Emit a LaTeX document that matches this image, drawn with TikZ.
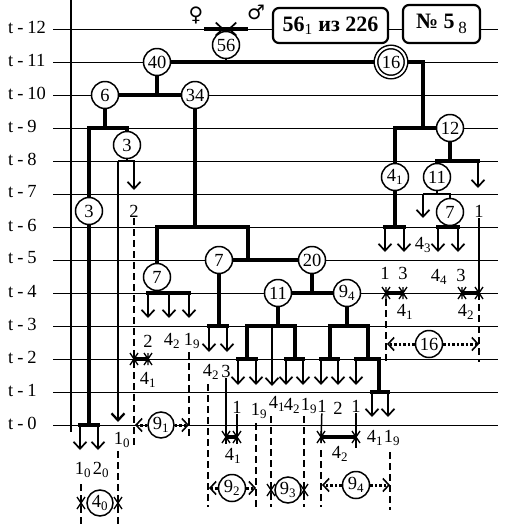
\documentclass[tikz,border=0pt]{standalone}
\usepackage{fontspec}
\setmainfont{Liberation Serif}
\newfontfamily\symfont{DejaVu Sans}
\usetikzlibrary{arrows.meta, positioning}

% number with an index
\newcommand{\ix}[2]{#1\textsubscript{#2}}
% cross mark at the end of a span
\newcommand{\xmk}[1]{\draw[line width=1.3pt] (#1) +(-4,-6) -- +(4,6) +(-4,6) -- +(4,-6) +(0,-6) -- +(0,6);}

\begin{document}
\begin{tikzpicture}[x=1pt, y=-1pt,
    font=\fontsize{18.5}{20}\selectfont,
    gline/.style={line width=0.9pt},
    thk/.style={line width=3.3pt},
    brk/.style={thk, line cap=rect},
    med/.style={line width=2.3pt},
    thn/.style={line width=1.5pt},
    seg/.style={line width=3.3pt},
    gen/.style={circle, draw, line width=1.5pt, fill=white, minimum size=27pt, inner sep=0pt},
    dbl/.style={gen, double, double distance=2pt, minimum size=30pt},
    lab/.style={inner sep=1pt},
    arr/.style={line width=1.7pt, -{Straight Barb[length=7pt, width=13pt]}},
    dsh/.style={line width=2pt, dash pattern=on 7pt off 4pt},
    dotl/.style={line width=3pt, dash pattern=on 2.5pt off 2pt, -{Straight Barb[length=6pt, width=13pt, line width=1.6pt]}},
    tbox/.style={draw, rounded corners=6pt, line width=2.2pt, fill=white, font=\fontsize{22}{24}\selectfont\bfseries}
]
    \useasboundingbox (0,0) rectangle (510,531);

    % time axis
    \foreach \k in {0,...,12}{
        \draw[gline] (53,{29+33*(12-\k)}) -- (498,{29+33*(12-\k)});
        \node[lab, anchor=west] (t\k) at (7,{27+33*(12-\k)}) {t\hspace{4pt}-\hspace{4pt}\k};
    }
    \draw[med] (71,0) -- (71,432);

    % header
    \node[lab, font=\symfont\fontsize{20}{20}\selectfont] (fem) at (196,15) {♀};
    \node[lab, font=\symfont\fontsize{20}{20}\selectfont] (mal) at (256,12) {♂};
    \node[tbox, minimum width=115pt, minimum height=35pt] (bx1) at (330.5,25.5) {56\textsubscript{\normalfont 1} из 226};
    \node[tbox, minimum width=77pt, minimum height=38pt] (bx2) at (441.5,24) {№ 5\,\raisebox{-5pt}{\normalfont\fontsize{17}{17}\selectfont 8}};
    \coordinate (mL) at (204,29);
    \coordinate (mR) at (248,29);
    \coordinate (mCl) at (224,29);
    \coordinate (mCr) at (228,29);
    \draw[thk] (mL) -- (mR);
    \draw[arr] (mL) -- (mCl);
    \draw[arr] (mR) -- (mCr);

    % generations
    \node[gen] (n56) at (226,45) {56};
    \node[gen] (n40) at (157,62) {40};
    \node[dbl] (n16) at (391,62) {16};
    \node[gen] (n6) at (105,95) {6};
    \node[gen] (n34) at (195,95) {34};
    \node[gen] (n3a) at (127,145) {3};
    \node[gen] (n12) at (450,128) {12};
    \node[gen] (n41) at (395,177) {\ix{4}{1}};
    \node[gen] (n11a) at (437,177) {11};
    \node[gen] (n3b) at (89,211) {3};
    \node[gen] (n7c) at (450,212) {7};
    \node[gen] (n7b) at (219,260) {7};
    \node[gen] (n20) at (312,260) {20};
    \node[gen] (n7a) at (157,277) {7};
    \node[gen] (n11b) at (278,293) {11};
    \node[gen] (n94) at (347,293) {\ix{9}{4}};

    % upper tree
    \draw[med] (n56) -- (226,62);
    \draw[thk] (n40) -- (n16);
    \draw[thk] (n40) -- (157,95);
    \draw[thk] (n6) -- (n34);
    \draw[thk] (n6) -- (105,128);
    \draw[thk] (n3a) |- (89,128) -- (n3b);

    % left branch
    \draw[thk] (n3b) -- (89,425);
    \draw[brk] (80,425) -- (98,425);
    \foreach \x in {80,98} \draw[arr] (\x,425) -- (\x,450);
    \node[lab] (l10b) at (83,470) {\ix{1}{0}};
    \node[lab] (l20) at (101,470) {\ix{2}{0}};
    \draw[med] (n3a) -- (127,161);
    \draw[med] (118,161) -- (135,161);
    \draw[arr, med] (118,161) -- (118,422);
    \draw[arr] (134,161) -- (134,190);
    \node[lab] (l2a) at (134,211) {2};
    \draw[dsh] (l2a) -- (134,448);
    \node[lab] (l10a) at (122,440) {\ix{1}{0}};
    \draw[dsh] (81,484) -- (81,525);
    \draw[dsh] (118,451) -- (118,525);
    \xmk{81,503} \xmk{118,503}
    \node[gen, minimum size=26pt] (c40) at (100,503) {\ix{4}{0}};

    % middle branch
    \draw[thk] (n34) -- (195,227);
    \draw[thk] (n7a) |- (248,227) |- (n20);
    \draw[thk] (n7b) -- (248,260);
    \draw[thk] (n7a) -- (157,293);
    \draw[brk] (148,293) -- (189,293);
    \foreach \x in {148,169,189} \draw[arr] (\x,293) -- (\x,318);
    \node[lab] (l2b) at (148,341) {2};
    \node[lab] (l42a) at (172,341) {\ix{4}{2}};
    \node[lab] (l19a) at (192,341) {\ix{1}{9}};
    \draw[dsh] (189,352) -- (189,437);
    \draw[seg] (134,359) -- (148,359);
    \xmk{134,359} \xmk{148,359}
    \node[lab] (l41a) at (148,380) {\ix{4}{1}};
    \node[gen, minimum size=26pt] (c91) at (161,425) {\ix{9}{1}};
    \draw[dotl] (c91) -- (135,425);
    \draw[dotl] (c91) -- (189,425);

    \draw[thk] (n7b) -- (219,326);
    \draw[brk] (209,326) -- (227,326);
    \foreach \x in {209,227} \draw[arr] (\x,326) -- (\x,352);
    \node[lab] (l42b) at (211,372) {\ix{4}{2}};
    \node[lab] (l3b) at (226,371) {3};
    \draw[dsh] (208,384) -- (208,507);
    \draw[thn] (l3b) -- (226,444);
    \node[lab] (l1d) at (237,407) {1};
    \draw[thn] (l1d) -- (237,444);
    \draw[seg] (226,437) -- (237,437);
    \xmk{226,437} \xmk{237,437}
    \node[lab] (l41d) at (233,456) {\ix{4}{1}};
    \node[lab] (l19b) at (259,411) {\ix{1}{9}};
    \draw[dsh] (256,423) -- (256,507);
    \node[gen] (c92) at (232,488) {\ix{9}{2}};
    \draw[dotl] (c92) -- (209,488);
    \draw[dotl] (c92) -- (256,488);

    % right-middle branch
    \draw[thk] (n20) -- (312,293);
    \draw[thk] (n11b) -- (n94);
    \draw[thk] (n11b) -- (278,326);
    \draw[brk] (247,326) -- (295,326);
    \draw[thk] (247,326) -- (247,359);
    \draw[brk] (238,359) -- (256,359);
    \draw[arr] (272,326) -- (272,386);
    \draw[thk] (295,326) -- (295,359);
    \draw[brk] (286,359) -- (303,359);
    \draw[thk] (n94) -- (347,326);
    \draw[brk] (330,326) -- (368,326);
    \draw[thk] (330,326) -- (330,359);
    \draw[brk] (321,359) -- (338,359);
    \draw[thk] (368,326) -- (368,359);
    \draw[brk] (356,359) -- (379,359);
    \draw[thk] (379,359) -- (379,392);
    \draw[brk] (372,392) -- (388,392);
    \foreach \x in {238,256,286,303,321,338,356} \draw[arr] (\x,359) -- (\x,385);
    \foreach \x in {372,388} \draw[arr] (\x,392) -- (\x,417);

    \node[lab] (l41e) at (277,404) {\ix{4}{1}};
    \node[lab] (l42e) at (292,406) {\ix{4}{2}};
    \node[lab] (l19c) at (309,406) {\ix{1}{9}};
    \node[lab] (l1e) at (322,406) {1};
    \node[lab] (l2e) at (338,408) {2};
    \node[lab] (l1f) at (356,406) {1};
    \draw[dsh] (271,416) -- (271,507);
    \draw[dsh] (304,416) -- (304,507);
    \draw[thn] (l1e) -- (321,443);
    \draw[dsh] (321,450) -- (321,507);
    \draw[thn] (l1f) -- (356,448);
    \draw[seg] (321,437) -- (356,437);
    \xmk{321,437} \xmk{356,437}
    \node[lab] (l42f) at (340,454) {\ix{4}{2}};
    \node[lab] (l41f) at (375,438) {\ix{4}{1}};
    \node[lab] (l19d) at (392,438) {\ix{1}{9}};
    \draw[dsh] (390,452) -- (390,510);
    \xmk{271,490} \xmk{304,490}
    \node[gen, minimum size=26pt] (c93) at (288,490) {\ix{9}{3}};
    \node[gen] (c94) at (356,485) {\ix{9}{4}};
    \draw[dotl] (c94) -- (322,485);
    \draw[dotl] (c94) -- (390,485);

    % right branch
    \draw[thk] (n16) -| (423,128);
    \draw[thk] (n12) -- (395,128) -- (n41);
    \draw[thk] (n12) -- (450,161);
    \draw[brk] (n11a) |- (478,161);
    \draw[arr] (478,161) -- (478,188);
    \draw[med] (n11a) -- (437,194);
    \draw[med] (423,194) -| (n7c);
    \draw[arr] (423,194) -- (423,218);
    \draw[thk] (n7c) -- (450,227);
    \draw[brk] (438,227) -- (458,227);
    \draw[thk] (n41) -- (395,227);
    \draw[brk] (385,227) -- (404,227);
    \foreach \x in {385,404,438,458} \draw[arr] (\x,227) -- (\x,252);
    \node[lab] (l1r) at (479,211) {1};
    \node[lab] (l43) at (423,245) {\ix{4}{3}};
    \node[lab] (l1c) at (385,273) {1};
    \node[lab] (l3c) at (403,273) {3};
    \node[lab] (l44) at (439,277) {\ix{4}{4}};
    \node[lab] (l3d) at (461,275) {3};
    \draw[thn] (l1r) -- (479,293);
    \draw[dsh] (479,293) -- (479,362);
    \draw[seg] (386,293) -- (403,293);
    \draw[seg] (462,293) -- (479,293);
    \xmk{386,293} \xmk{403,293} \xmk{462,293} \xmk{479,293}
    \node[lab] (l41c) at (405,312) {\ix{4}{1}};
    \node[lab] (l42c) at (466,312) {\ix{4}{2}};
    \draw[dsh] (386,299) -- (386,362);
    \node[gen] (c16) at (429,344) {16};
    \draw[dotl] (c16) -- (387,344);
    \draw[dotl] (c16) -- (479,344);
\end{tikzpicture}
\end{document}
